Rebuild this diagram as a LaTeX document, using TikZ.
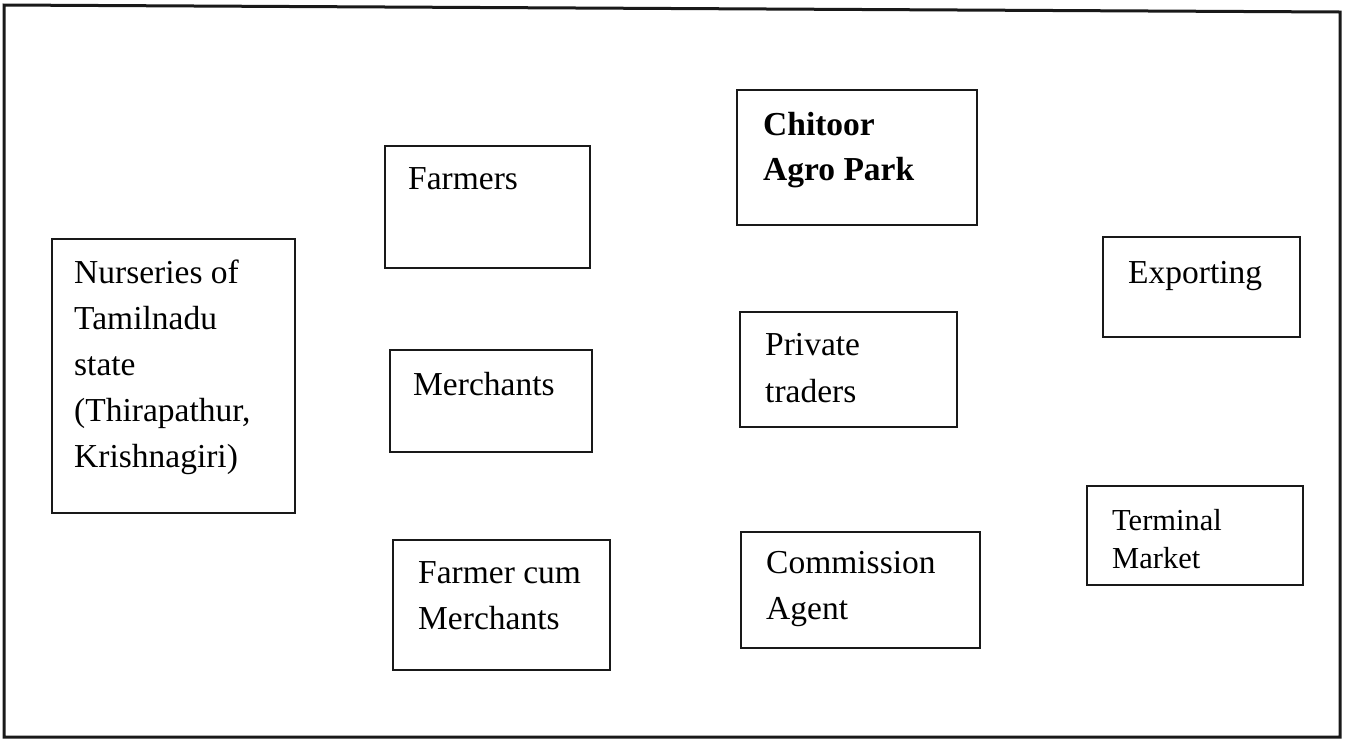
\documentclass[tikz,border=0pt]{standalone}
\usepackage{fontspec}
\setmainfont{Liberation Serif}
\begin{document}
\begin{tikzpicture}[x=1pt,y=-1pt,
  box/.style={draw=black!90, line width=2.4pt, inner sep=0pt},
  lbl/.style={anchor=base west, inner sep=0pt, font=\fontsize{33.5}{46}\selectfont},
  blbl/.style={lbl, font=\fontsize{33.5}{46}\selectfont\bfseries},
  slbl/.style={lbl, font=\fontsize{30.5}{40}\selectfont}]
\useasboundingbox (0,0) rectangle (1350,740);
% outer frame
\draw[line width=3pt, black!90] (4,5) -- (1340,12) -- (1340,737) -- (4,737) -- cycle;

% boxes, placed by centre and size
\node[box, minimum width=243pt, minimum height=274pt] (nurs) at (173.5,376) {};
\node[box, minimum width=205pt, minimum height=122pt] (farm) at (487.5,207) {};
\node[box, minimum width=202pt, minimum height=102pt] (merc) at (491,401) {};
\node[box, minimum width=217pt, minimum height=130pt] (fcm) at (501.5,605) {};
\node[box, minimum width=240pt, minimum height=135pt] (agro) at (857,157.5) {};
\node[box, minimum width=217pt, minimum height=115pt] (priv) at (848.5,369.5) {};
\node[box, minimum width=239pt, minimum height=116pt] (comm) at (860.5,590) {};
\node[box, minimum width=197pt, minimum height=100pt] (expo) at (1201.5,287) {};
\node[box, minimum width=216pt, minimum height=99pt] (term) at (1195,535.5) {};

% labels, one node per line
\node[lbl] (nurs1) at (74,283) {Nurseries of};
\node[lbl] (nurs2) at (74,329) {Tamilnadu};
\node[lbl] (nurs3) at (74,375) {state};
\node[lbl] (nurs4) at (74,421) {(Thirapathur,};
\node[lbl] (nurs5) at (74,467) {Krishnagiri)};

\node[lbl] (farm1) at (408,189) {Farmers};
\node[lbl] (merc1) at (413,395) {Merchants};
\node[lbl] (fcm1) at (418,583) {Farmer cum};
\node[lbl] (fcm2) at (418,629) {Merchants};

\node[blbl] (agro1) at (763,135) {Chitoor};
\node[blbl] (agro2) at (763,180) {Agro Park};
\node[lbl] (priv1) at (765,355) {Private};
\node[lbl] (priv2) at (765,402) {traders};
\node[lbl] (comm1) at (766,573) {Commission};
\node[lbl] (comm2) at (766,619) {Agent};

\node[lbl] (expo1) at (1128,283) {Exporting};
\node[slbl] (term1) at (1112,530) {Terminal};
\node[slbl] (term2) at (1112,568) {Market};
\end{tikzpicture}
\end{document}
